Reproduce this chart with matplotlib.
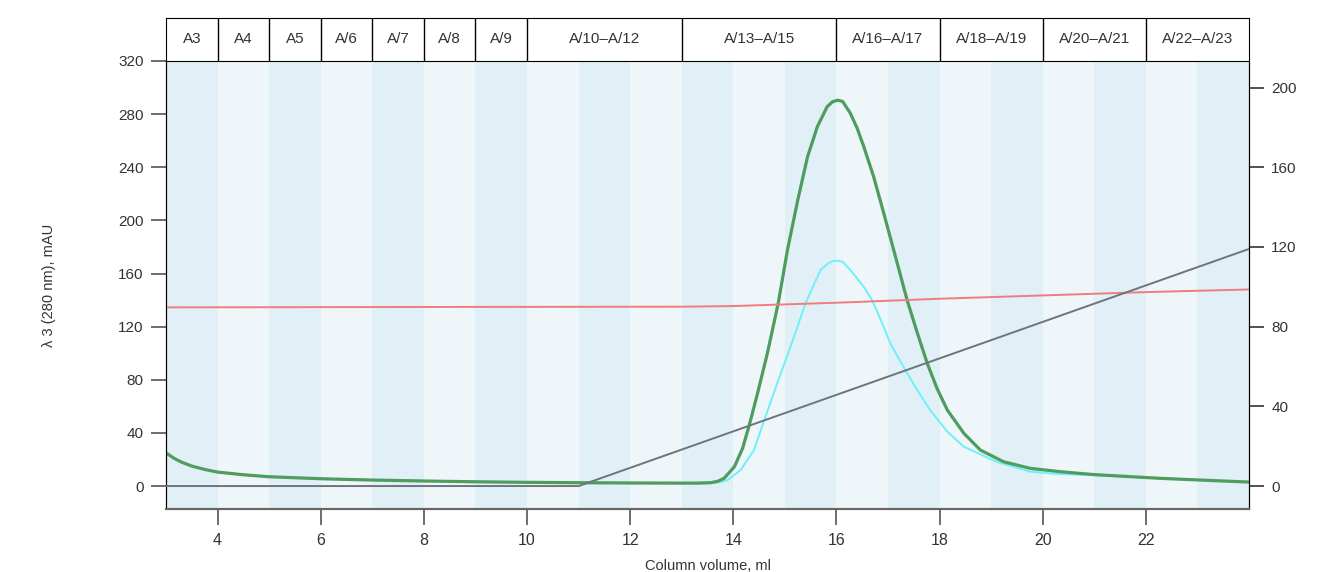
import numpy as np
import matplotlib.pyplot as plt

plt.rcParams['font.family'] = ['Liberation Sans', 'DejaVu Sans']

# fractions (1 ml each, fraction n spans n..n+1 ml)
fractions = list(range(3, 24))
header_labels = ['A3', 'A4', 'A5', 'A/6', 'A/7', 'A/8', 'A/9', 'A/10\u2013A/12', 'A/13\u2013A/15',
                 'A/16\u2013A/17', 'A/18\u2013A/19', 'A/20\u2013A/21', 'A/22\u2013A/23']
header_edges = [3, 4, 5, 6, 7, 8, 9, 10, 13, 16, 18, 20, 22, 24]

# UV 280 nm (green), mAU
uv_x = [3.0, 3.15, 3.3, 3.5, 3.75, 4.0, 4.5, 5.0, 6.0, 7.0, 8.0, 9.0, 10.0, 11.0, 12.0, 13.0, 13.3,
        13.56, 13.7, 13.82, 14.02, 14.18, 14.31, 14.47, 14.66, 14.87, 15.05, 15.25, 15.44, 15.63,
        15.82, 15.92, 16.02, 16.12, 16.27, 16.4, 16.53, 16.72, 16.92, 17.11, 17.37, 17.57, 17.76,
        17.95, 18.15, 18.47, 18.79, 19.24, 19.76, 20.34, 21.0, 22.28, 23.0, 24.0]
uv_y = [25, 21, 18, 15, 12.5, 10.5, 8.5, 7, 5.5, 4.5, 3.8, 3.2, 2.8, 2.5, 2.3, 2.2, 2.2,
        2.5, 3.6, 5.8, 14.5, 28.4, 46, 69.8, 99.9, 137.5, 177.7, 215.4, 248, 270.6,
        285.6, 289.2, 290.5, 289.5, 280.6, 269.5, 255.5, 233, 205, 177.7, 140, 115, 92.4,
        73.5, 57.2, 39.7, 27.1, 18.3, 13.3, 10.8, 8.6, 5.8, 4.6, 3]

# second UV trace (cyan)
uv2_x = [3.0, 3.15, 3.3, 3.5, 3.75, 4.0, 4.5, 5.0, 6.0, 7.0, 8.0, 9.0, 10.0, 11.0, 12.0, 13.0, 13.5,
         13.7, 13.89, 14.14, 14.4, 14.6, 14.85, 15.11, 15.4, 15.69, 15.85, 15.94, 16.02, 16.12,
         16.27, 16.53, 16.69, 16.86, 17.05, 17.34, 17.57, 17.82, 18.15, 18.47, 19.1, 19.76, 20.3,
         21.0, 22.28, 23.0, 24.0]
uv2_y = [25, 21, 18, 15, 12.5, 10.5, 8.5, 7, 5.5, 4.5, 3.8, 3.2, 2.8, 2.5, 2.3, 2.2, 2.2,
         2.6, 4.5, 12, 27, 49.7, 77.3, 105, 137.6, 162.6, 168, 169.4, 169.7, 168.8,
         162.6, 150, 140, 125, 107, 87, 72, 57, 40.9, 29.6, 18.3, 10.8, 9.0,
         8.3, 5.8, 4.6, 3]

# conductivity (red), left axis units
cond_x = [3, 8, 13, 14, 16, 18, 20, 22, 24]
cond_y = [134.5, 134.8, 135, 135.5, 138, 141, 143.5, 146, 148]

# gradient (grey), right axis units
grad_x = [3, 11, 24]
grad_y = [0, 0, 119]

fig = plt.figure(figsize=(13.38, 5.72), dpi=100)
ax = fig.add_axes([0.1241, 0.1101, 0.8094, 0.7833])
hx = fig.add_axes([0.1241, 0.8934, 0.8094, 0.0752])

for f in fractions:
    c = '#e1f0f6' if f % 2 == 1 else '#eef6fa'
    ax.axvspan(f, f + 1, color=c, lw=0, zorder=0)

ax.plot(uv2_x, uv2_y, color='#6ef0f8', lw=1.4, zorder=2, solid_joinstyle='round')
ax.plot(uv_x, uv_y, color='#4f9c5f', lw=2.3, zorder=3, solid_joinstyle='round')
ax.plot(cond_x, cond_y, color='#f07c80', lw=1.4, zorder=4)

ax2 = ax.twinx()
ax2.plot(grad_x, grad_y, color='#6d757a', lw=1.4, zorder=5)

ax.set_xlim(3, 24)
ax.set_ylim(-17.3, 320)
ax2.set_ylim(-17.3 / 1.5, 320 / 1.5)

ax.set_xticks([4, 6, 8, 10, 12, 14, 16, 18, 20, 22])
ax.set_yticks(range(0, 321, 40))
ax2.set_yticks(range(0, 201, 40))

txt = '#333333'
ax.tick_params(axis='x', length=11.5, width=1.2, color='#555555', labelsize=11.5, labelcolor=txt, pad=6)
ax.tick_params(axis='y', length=11, width=1.2, color='#555555', labelsize=11, labelcolor=txt, pad=5)
ax2.tick_params(axis='y', length=11, width=1.2, color='#333333', labelsize=11, labelcolor=txt, pad=5)

for a in (ax, ax2):
    a.spines['top'].set_visible(False)
    a.spines['left'].set_color('black')
    a.spines['right'].set_color('black')
    a.spines['bottom'].set_color('#666666')
    a.spines['bottom'].set_linewidth(1.5)

ax.set_xlabel('Column volume, ml', fontsize=10.5, color=txt, va='center')
ax.xaxis.set_label_coords(0.5, -0.127)
ax.set_ylabel('\u03bb 3 (280 nm), mAU', fontsize=10.5, color=txt, va='center')
ax.yaxis.set_label_coords(-0.108, 0.5)

# fraction header
hx.set_xlim(3, 24)
hx.set_ylim(0, 1)
hx.set_xticks([])
hx.set_yticks([])
for e in header_edges[1:-1]:
    hx.axvline(e, color='black', lw=1)
for i, lab in enumerate(header_labels):
    mid = (header_edges[i] + header_edges[i + 1]) / 2
    hx.text(mid, 0.5, lab, ha='center', va='center', fontsize=11, color=txt)
for s in hx.spines.values():
    s.set_color('black')

fig.savefig('out.png', dpi=100)
